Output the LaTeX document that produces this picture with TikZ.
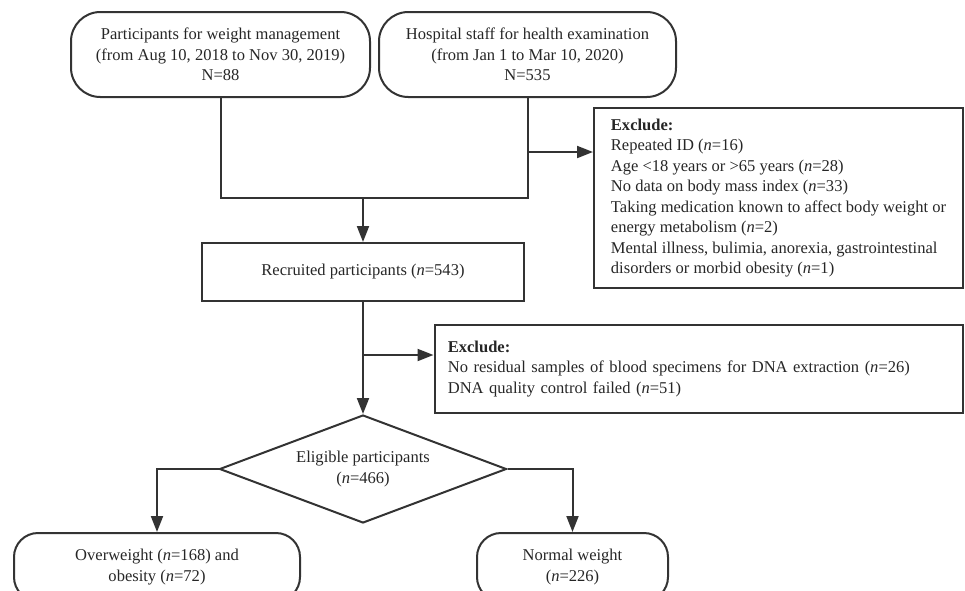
\documentclass[tikz,border=0pt]{standalone}
\usepackage{fontspec}
\setmainfont{Liberation Serif}
\usetikzlibrary{arrows.meta,calc,shapes.geometric}

\begin{document}
\begin{tikzpicture}
    [x=0.75pt,y=-0.75pt,font=\fontsize{12.4pt}{15.4pt}\selectfont,
    outline/.style={draw=black!80,line width=1.5pt,text=black!85},
    source/.style={outline,rounded corners=22pt,minimum height=63.75pt,align=center},
    stage/.style={outline,minimum width=241.5pt,minimum height=43.5pt},
    exclusion/.style={outline,align=left,inner xsep=10pt},
    decision/.style={outline,diamond,aspect=2.66,inner sep=0pt,minimum width=215.25pt,minimum height=81pt,align=center},
    outcome/.style={outline,rounded corners=18pt,minimum height=51pt,align=center},
    link/.style={draw=black!80,line width=1.5pt},
    flow/.style={link,-{Triangle[length=12pt,width=9pt]}}]

    \useasboundingbox (0,0) rectangle (965,590);
    \clip (0,0) rectangle (965,590);

    \node[source,minimum width=224.25pt] (weight) at (220.5,54.5) {Participants for weight management\\(from Aug 10, 2018 to Nov 30, 2019)\\N=88};
    \node[source,minimum width=222.75pt] (staff) at (527.5,54.5) {Hospital staff for health examination\\(from Jan 1 to Mar 10, 2020)\\N=535};
    \node[exclusion,minimum width=276.75pt,minimum height=135pt] (excludeA) at (778.5,198)
    {\textbf{Exclude:}\\Repeated ID (\textit{n}=16)\\Age <18 years or >65 years (\textit{n}=28)\\No data on body mass index (\textit{n}=33)\\Taking medication known to affect body weight or\\energy metabolism (\textit{n}=2)\\Mental illness, bulimia, anorexia, gastrointestinal\\disorders or morbid obesity (\textit{n}=1)};
    \node[stage] (recruited) at (363,272) {Recruited participants (\textit{n}=543)};
    \node[exclusion,text width=376pt,minimum height=66pt] (excludeB) at (698.5,369)
    {\textbf{Exclude:}\\No residual samples of blood specimens for DNA extraction (\textit{n}=26)\\DNA quality control failed (\textit{n}=51)};
    \node[decision] (eligible) at (363,469) {Eligible participants\\(\textit{n}=466)};
    \node[outcome,minimum width=214.5pt] (overweight) at (157,567) {Overweight (\textit{n}=168) and\\obesity (\textit{n}=72)};
    \node[outcome,minimum width=143.25pt] (normal) at (572.5,567) {Normal weight\\(\textit{n}=226)};

    \coordinate (join) at (363,198);
    \coordinate (splitA) at (527.5,152);
    \coordinate (splitB) at (363,355);

    \path[link] (weight.south) |- (join) -| (staff.south);
    \path[flow] (join) -- (recruited.north);
    \path[flow] (splitA) -- (splitA -| excludeA.west);
    \path[flow] (recruited.south) -- (eligible.north);
    \path[flow] (splitB) -- (splitB -| excludeB.west);
    \path[flow] (eligible.west) -| (overweight.north);
    \path[flow] (eligible.east) -| (normal.north);
  \end{tikzpicture}
\end{document}
